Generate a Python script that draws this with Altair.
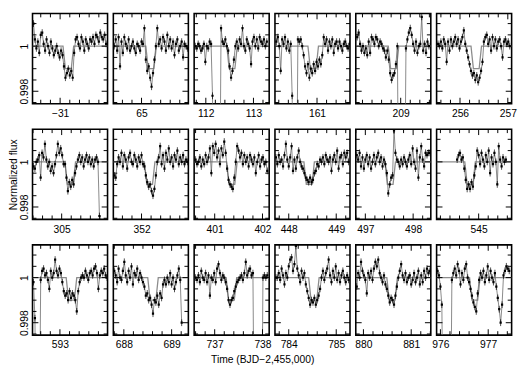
import altair as alt
import pandas as pd
import numpy as np

# ---------------- data (flux deviations in units of 1e-4) ----------------
DT = 0.03          # spacing of the plotted samples (days)
ERR = 1.5          # typical error bar half-length, 1e-4 units
MODEL_DEPTH = 10   # 1e-4 units
MODEL_DUR = 0.22   # days
MODEL_ING = 0.05   # days

XMIN = [-31.57, 64.41, 111.755, 160.12, 208.06, 255.51,
        304.39, 351.41, 400.57, 447.71, 496.80, 544.12,
        592.43, 687.78, 736.57, 783.71, 879.84, 975.92]
XMAX = [-30.02, 65.98, 113.33, 161.69, 209.63, 257.08,
        305.96, 352.98, 402.14, 449.29, 498.37, 545.69,
        593.99, 689.35, 738.14, 785.29, 881.41, 977.49]
LABELS = [[-31], [65], [112, 113], [161], [209], [256, 257],
          [305], [352], [401, 402], [448, 449], [497, 498], [545],
          [593], [688, 689], [737, 738], [784, 785], [880, 881], [976, 977]]
T0 = [-31.55, 64.43, 111.78, 160.15, 208.09, 255.54,
      304.41, 351.43, 400.60, 447.73, 496.82, 544.55,
      592.45, 687.80, 736.60, 783.73, 879.86, 975.94]
TRANSIT_MID = [-30.83, 65.20, 112.55, 160.92, 208.85, 256.34,
               305.18, 352.17, 401.36, 448.43, 497.52, 544.82,
               593.24, 688.61, 737.35, 784.53, 880.60, 976.72]

F_M31 = [10, 3, -1, 2, -3, 5, 6, 1, -2, 3, 0, -3, 2, -1, -4, -2, 0, -3, -5, -2,
         -4, -9, -14, -12, -10, -13, -11, -14, -3, 3, 4, 1, -1, 4, 2, -2, 3, 1, -1, 3,
         2, 4, 1, 5, 4, 2, 6, 4, 3, 5, 1]
F_65 = [0, 3, -2, 4, -9, 2, -3, 4, 1, -1, 3, -2, 0, 2, -1, -3, 1, 0, -2, 2,
        1, 8, -6, -11, -9, -14, -18, -12, -6, 0, 8, 1, 3, -1, 4, 2, -2, 5, 0, 3,
        -1, 2, -4, 1, 3, -2, 0, 2, -5, 1, 0, -1]
F_112 = [0, -1, 1, 0, -2, -1, 1, -7, 0, -1, 2, 1, -22, -80, -80, -80, -80, -80, 8, 2,
         1, 3, 0, -2, -9, -14, -11, -6, 0, 2, -1, 3, 1, 8, 0, -2, 3, 1, -1, -8,
         2, 4, 0, 3, -1, 4, 2, 1, 3, 0, 2]
F_161 = [2, 4, 0, -11, 3, 1, 4, -1, 2, -2, 1, -22, -80, -80, -80, 3, 2, 3, 0, -4,
         -9, -12, -8, -14, -10, -12, -8, -11, -7, -9, -6, -8, -4, 4, 1, 3, -2, 2, 0, 3,
         -3, 1, 2, -1, 2, 0, -2, 1, 2, 0, -1, 1]
F_209 = [4, 6, 1, -2, 0, -3, -1, -4, 2, -3, 4, 3, 1, 4, 3, 0, 2, 1, -1, -2,
         -5, -2, -6, -12, -15, -13, -12, -8, 0, -80, -80, -80, -80, -80, -1, 3, 6, 8, 5, 1,
         -2, 2, -3, 0, 1, 13, -2, 1, -3, 2, 0]
F_256 = [1, 0, 2, -1, 3, 1, -7, 2, -2, 3, 0, 2, 4, 1, 3, -1, 2, 4, 7, 1,
         -2, -5, -8, -11, -13, -12, -15, -13, -16, -14, -11, -7, 2, 4, 5, 1, 3, -2, 4, 0,
         3, -1, 2, 3, 0, -5, 2, 3, 1, 2, 0]
F_305 = [-2, -3, 0, 1, 3, -7, 4, 2, 8, 1, -2, 0, -4, -2, -5, -1, 3, 8, 4, 6,
         3, -1, -1, -7, -13, -9, -11, -8, -10, -5, -2, 1, 3, 0, 2, -2, 1, 3, 0, 2,
         -1, 1, -2, 1, 2, 0, -24]
F_352 = [-6, -7, -1, 2, 0, 4, -2, 3, 1, -3, 2, 4, 0, -1, 3, 1, -2, 2, 0, 3,
         -1, -2, -6, -9, -11, -10, -13, -15, -12, -6, 0, 2, 7, -1, 3, -3, 4, 1, 6, 0,
         2, -2, 3, 1, 5, -1, 2, 0, 3, -1, 1, 0]
F_401 = [1, -1, 0, 2, -2, 1, -1, 3, 0, 2, 6, -5, 7, 4, 8, 2, 5, -1, 6, 3,
         9, 4, -3, -8, -10, -11, -12, -7, 0, 7, 5, 2, 4, -1, 3, 0, 2, -2, 3, 1,
         -1, 2, -5, 0, 3, -2, 1, 2, -1, 0, -4]
F_448 = [2, -1, 3, 0, 1, -2, 3, 8, 1, -2, 2, 7, -4, 1, -3, 2, 5, 0, -2, -3,
         -5, -7, -8, -9, -7, -9, -8, -5, -4, -1, -2, 1, 0, 2, -1, 3, 1, 0, 2, -4,
         1, 3, 0, 5, -3, 2, 3, -1, 4, 2, 4, 0]
F_497 = [3, 1, 4, -2, 2, -3, 1, 3, -1, 2, -3, 0, 3, -1, 2, 4, 0, 2, -2, 1,
         -1, -5, -14, -10, -7, -6, 14, 4, 1, 0, -2, 1, -1, 2, 0, -2, 1, 3, -1, 6,
         0, -3, 5, -7, 2, 7, 1, -2, 4, 3, 4, 4]
F_545 = [1, 3, 4, 1, 2, -3, -8, -12, -10, -12, -9, -11, -6, -2, 5, 3, -1, 4, 1, -2,
         3, 0, 5, -5, 2, -1, 4, 0, -10, 7, 1, -2, 2, 0, 1]
F_593 = [-2, -18, -80, -80, -80, -1, 3, 4, 1, 2, -1, -5, 3, 0, 2, 8, 3, 1, 4, 2,
         -2, -6, -8, -7, -10, -6, -9, -7, -8, -10, -15, -6, -2, 0, 1, 0, 3, 1, -1, 2,
         3, 1, 4, 5, 2, -5, 1, 3, 2, 4, 1, 0]
F_688 = [3, 1, -2, 4, 0, -1, 3, 7, 1, -2, 3, 0, 5, -3, 2, 1, 4, -1, 2, 0,
         -2, -4, -8, -7, -10, -9, -12, -16, -10, -11, -8, -12, -7, -9, -3, -1, -3, 0, -2, 2,
         -3, 0, -5, -2, 1, 4, -1, -20]
F_737 = [0, -1, 1, -2, 3, 0, -1, 2, -2, 1, -8, 0, -1, 2, -2, 4, 6, 2, -1, 1,
         0, -2, -5, -10, -12, -10, -9, -6, -4, -2, -1, 0, 1, -1, 2, 7, 1, 3, 4, 1,
         2, -80, -80, -80, -80, -80, -80, 0, 1, 0, 1]
F_784 = [0, 0, 2, -1, 4, 1, -3, 2, 0, 5, 8, 9, 3, 6, 14, 4, 1, -2, 3, 0,
         2, -3, -6, -9, -12, -10, -11, -9, -12, -10, -8, -5, 0, 3, -1, 2, 4, 8, 1, -2,
         3, 0, 5, -1, 2, -2, 1, 3, 0, -2, 1, -1]
F_880 = [-4, 2, 0, 7, 3, 1, -1, -7, 2, 0, 3, -1, 4, 7, 5, 8, 2, 0, -2, 1,
         -3, -5, -8, -11, -9, -10, -12, -8, -4, 0, 3, 6, 1, -1, 2, -2, 0, 1, -3, -1,
         2, -2, 0, 3, -3, 1, -2, 3, 0, 4, 2, 3]
F_976 = [3, 1, -4, -12, -80, -80, -80, -80, -80, -80, -1, 2, 4, 1, 6, 3, -3, 2, -1, 4,
         6, 0, -2, -5, -8, -11, -13, -15, -7, -1, 2, 0, 3, -2, 1, 5, -1, 3, 0, -2,
         2, -4, -9, -14, -20, -12, 1, 3, 5, 4, 3]

FLUX = [F_M31, F_65, F_112, F_161, F_209, F_256,
        F_305, F_352, F_401, F_448, F_497, F_545,
        F_593, F_688, F_737, F_784, F_880, F_976]

Y_DOMAIN = [0.99745, 1.00145]
Y_LABELS = [0.998, 1.0]

# ---------------- style ----------------
W, H = 76.5, 92
FONT = "Liberation Sans"
FS = 10.5
MINOR_LEN, MAJOR_LEN = 4, 6


def panel(k):
    row, col = divmod(k, 6)
    xs = alt.Scale(domain=[XMIN[k], XMAX[k]], nice=False, zero=False)
    ys = alt.Scale(domain=Y_DOMAIN, nice=False, zero=False)

    vals = FLUX[k]
    t = [T0[k] + DT * i for i in range(len(vals))]
    f = [1 + v * 1e-4 for v in vals]
    df = pd.DataFrame({
        "t": t, "f": f,
        "lo": [v - ERR * 1e-4 for v in f],
        "hi": [v + ERR * 1e-4 for v in f],
    })

    tc = TRANSIT_MID[k]
    half = MODEL_DUR / 2
    mdf = pd.DataFrame({
        "t": [XMIN[k], tc - half, tc - half + MODEL_ING, tc + half - MODEL_ING, tc + half, XMAX[k]],
        "f": [1, 1, 1 - MODEL_DEPTH * 1e-4, 1 - MODEL_DEPTH * 1e-4, 1, 1],
    })

    # tick positions (0.2 d minor, 1 d major; 0.0005 minor, 0.002 major)
    xt = np.round(np.arange(np.ceil(XMIN[k] / 0.2) * 0.2, XMAX[k] + 1e-9, 0.2), 3)
    xmaj = pd.DataFrame({"t": [v for v in xt if abs(v - round(v)) < 1e-6]})
    xmin_ = pd.DataFrame({"t": [v for v in xt if abs(v - round(v)) >= 1e-6]})
    yt = np.round(np.arange(0.9975, 1.00145, 0.0005), 4)
    ymaj = pd.DataFrame({"f": [v for v in yt if v in (0.998, 1.0)]})
    ymin_ = pd.DataFrame({"f": [v for v in yt if v not in (0.998, 1.0)]})

    xaxis = alt.Axis(values=LABELS[k], format="d", ticks=False, domain=False, grid=False,
                     labelPadding=5, labelFlush=False, labelOverlap=False,
                     labelFont=FONT, labelFontSize=FS, labelColor="black", title=None)
    if col == 0:
        yaxis = alt.Axis(values=Y_LABELS, format="~g", ticks=False, domain=False, grid=False,
                         labelAngle=270, labelAlign="center", labelBaseline="bottom",
                         labelPadding=3, labelFont=FONT, labelFontSize=FS, labelColor="black",
                         labelOverlap=False, labelFlush=False,
                         title="Normalized flux" if row == 1 else None,
                         titleFont=FONT, titleFontSize=FS, titleFontWeight="normal",
                         titleColor="black", titlePadding=1)
    else:
        yaxis = None

    def X(field="t"):
        return alt.X(f"{field}:Q", scale=xs, axis=xaxis)

    def Y(field="f"):
        return alt.Y(f"{field}:Q", scale=ys, axis=yaxis)

    model = alt.Chart(mdf).mark_line(color="#8c8c8c", strokeWidth=1.3, clip=True).encode(
        x=X(), y=Y())
    line = alt.Chart(df).mark_line(color="#6a6a6a", strokeWidth=0.8, clip=True).encode(
        x=X(), y=Y())
    err = alt.Chart(df).mark_rule(color="black", strokeWidth=0.7, clip=True).encode(
        x=X(), y=Y("lo"), y2="hi:Q")
    pts = alt.Chart(df).mark_square(size=5, color="black", opacity=1, clip=True).encode(
        x=X(), y=Y())

    tick_layers = []
    for d, L in ((xmin_, MINOR_LEN), (xmaj, MAJOR_LEN)):
        if len(d):
            tick_layers.append(alt.Chart(d).mark_rule(color="black", strokeWidth=1).encode(
                x=X(), y=alt.value(0), y2=alt.value(L)))
            tick_layers.append(alt.Chart(d).mark_rule(color="black", strokeWidth=1).encode(
                x=X(), y=alt.value(H), y2=alt.value(H - L)))
    for d, L in ((ymin_, MINOR_LEN), (ymaj, MAJOR_LEN)):
        tick_layers.append(alt.Chart(d).mark_rule(color="black", strokeWidth=1).encode(
            y=Y(), x=alt.value(0), x2=alt.value(L)))
        tick_layers.append(alt.Chart(d).mark_rule(color="black", strokeWidth=1).encode(
            y=Y(), x=alt.value(W), x2=alt.value(W - L)))

    return alt.layer(model, line, err, pts, *tick_layers).properties(width=W, height=H)


chart = alt.concat(*[panel(k) for k in range(18)], columns=6,
                   spacing={"row": 26, "column": 5.4}, bounds="flush").properties(
    padding=0,
    title=alt.TitleParams("Time (BJD\u22122,455,000)", orient="bottom", anchor="middle",
                          font=FONT, fontSize=FS, fontWeight="normal", color="black", offset=4),
).resolve_scale(x="independent", y="independent").configure_view(stroke="black", strokeWidth=1.6)

chart.save("out.html", embed_options={"renderer": "svg", "actions": False})
